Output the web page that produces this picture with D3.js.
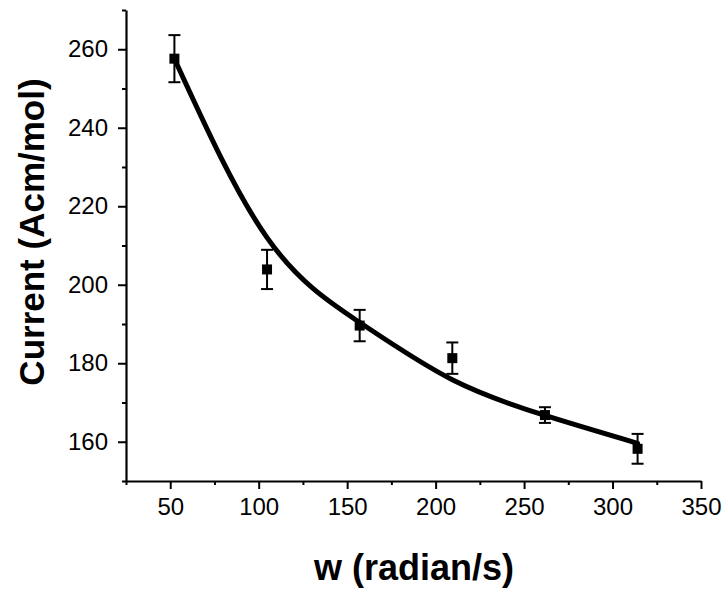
<!DOCTYPE html>
<html>
<head>
<meta charset="utf-8">
<script src="https://cdn.jsdelivr.net/npm/d3@7/dist/d3.min.js"></script>
<style>
  html, body { margin: 0; padding: 0; background: #fff; }
  svg { display: block; }
</style>
</head>
<body>
<svg id="chart" width="728" height="593"></svg>
<script>
// Rotation rate (rad/s) and measured current with error
const omega   = [52.36, 104.72, 157.08, 209.44, 261.80, 314.16];
const current = [257.6, 203.9, 189.6, 181.3, 166.8, 158.2];
const errors  = [6.0, 5.0, 4.0, 4.0, 2.0, 3.8];

// Fitted decay curve, sampled along the rate axis
const fitOmega   = [52.36, 104.72, 157.08, 209.44, 261.80, 314.16];
const fitCurrent = [257.6, 212.0, 190.4, 175.8, 166.7, 159.6];

// Axis ticks
const xMajor = [50, 100, 150, 200, 250, 300, 350];
const xMinor = [25, 75, 125, 175, 225, 275, 325];
const yMajor = [160, 180, 200, 220, 240, 260];
const yMinor = [150, 170, 190, 210, 230, 250, 270];

const xTitle = "w (radian/s)";
const yTitle = "Current (Acm/mol)";

const svg = d3.select("#chart");
const FONT = '"Liberation Sans", Arial, Helvetica, sans-serif';

const x = d3.scaleLinear().domain([25, 350]).range([126, 701]);
const y = d3.scaleLinear().domain([150, 270]).range([481, 10]);

// Minor ticks (no labels)
svg.append("g")
  .attr("transform", `translate(0,${y(150)})`)
  .call(d3.axisBottom(x).tickValues(xMinor).tickSize(4).tickFormat(""))
  .call(g => g.select(".domain").remove())
  .call(g => g.selectAll("line").attr("stroke-width", 2));
svg.append("g")
  .attr("transform", `translate(${x(25)},0)`)
  .call(d3.axisLeft(y).tickValues(yMinor).tickSize(4).tickFormat(""))
  .call(g => g.select(".domain").remove())
  .call(g => g.selectAll("line").attr("stroke-width", 2));

// Major axes
const xAxis = svg.append("g")
  .attr("transform", `translate(0,${y(150)})`)
  .call(d3.axisBottom(x).tickValues(xMajor).tickSize(8).tickSizeOuter(0).tickPadding(9));
const yAxis = svg.append("g")
  .attr("transform", `translate(${x(25)},0)`)
  .call(d3.axisLeft(y).tickValues(yMajor).tickSize(8).tickSizeOuter(0).tickPadding(10));

[xAxis, yAxis].forEach(g => {
  g.select(".domain").attr("stroke-width", 2.2);
  g.selectAll(".tick line").attr("stroke-width", 2);
  g.selectAll(".tick text")
    .attr("font-family", FONT)
    .attr("font-size", 24)
    .attr("fill", "#000");
});

// Fitted curve
svg.append("path")
  .datum(fitOmega.map((w, i) => [w, fitCurrent[i]]))
  .attr("fill", "none")
  .attr("stroke", "#000")
  .attr("stroke-width", 5)
  .attr("stroke-linecap", "round")
  .attr("d", d3.line().x(d => x(d[0])).y(d => y(d[1])).curve(d3.curveNatural));

// Error bars and markers
const pts = omega.map((w, i) => ({ w, c: current[i], e: errors[i] }));
const eb = svg.append("g").attr("stroke", "#000").attr("stroke-width", 2);
eb.selectAll("line.v").data(pts).join("line")
  .attr("x1", d => x(d.w)).attr("x2", d => x(d.w))
  .attr("y1", d => y(d.c + d.e)).attr("y2", d => y(d.c - d.e));
eb.selectAll("line.t").data(pts).join("line")
  .attr("x1", d => x(d.w) - 6).attr("x2", d => x(d.w) + 6)
  .attr("y1", d => y(d.c + d.e)).attr("y2", d => y(d.c + d.e));
eb.selectAll("line.b").data(pts).join("line")
  .attr("x1", d => x(d.w) - 6).attr("x2", d => x(d.w) + 6)
  .attr("y1", d => y(d.c - d.e)).attr("y2", d => y(d.c - d.e));

svg.append("g").selectAll("rect").data(pts).join("rect")
  .attr("x", d => x(d.w) - 5)
  .attr("y", d => y(d.c) - 5)
  .attr("width", 10)
  .attr("height", 10)
  .attr("fill", "#000");

// Axis titles
svg.append("text")
  .attr("x", 414).attr("y", 580)
  .attr("text-anchor", "middle")
  .attr("font-family", FONT)
  .attr("font-weight", "bold")
  .attr("font-size", 36)
  .text(xTitle);

svg.append("text")
  .attr("transform", "translate(44,232) rotate(-90)")
  .attr("text-anchor", "middle")
  .attr("font-family", FONT)
  .attr("font-weight", "bold")
  .attr("font-size", 35)
  .text(yTitle);
</script>
</body>
</html>
